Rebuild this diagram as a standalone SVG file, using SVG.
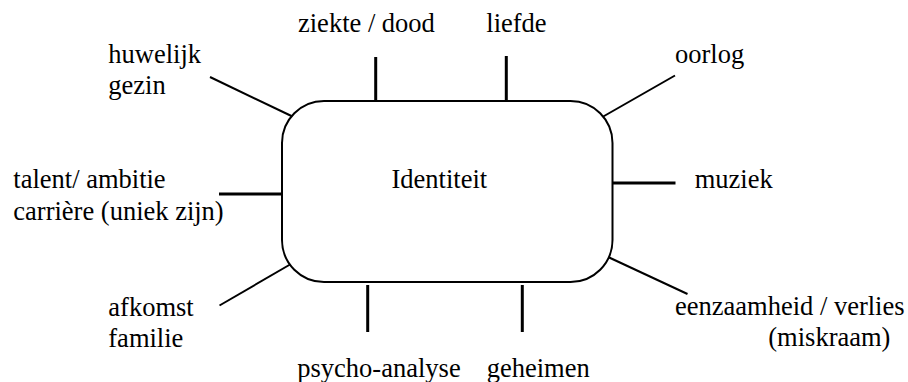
<svg xmlns="http://www.w3.org/2000/svg" width="908" height="382" viewBox="0 0 908 382">
<rect width="908" height="382" fill="#fff"/>
<g id="connectors" stroke="#000" fill="none">
<g stroke-width="2">
<line x1="210" y1="77" x2="292.5" y2="116.5"/>
<line x1="675" y1="75.5" x2="601.5" y2="117.5"/>
<line x1="219.5" y1="305.5" x2="293.5" y2="262.5"/>
<line x1="607" y1="256.5" x2="687.5" y2="294"/>
</g>
<g stroke-width="3">
<line x1="375.7" y1="57" x2="375.7" y2="102"/>
<line x1="506.3" y1="56" x2="506.3" y2="102"/>
<line x1="612" y1="183" x2="675.5" y2="183"/>
<line x1="219" y1="194" x2="282" y2="194"/>
<line x1="367.7" y1="285" x2="367.7" y2="332"/>
<line x1="522.3" y1="285" x2="522.3" y2="332"/>
</g>
</g>
<g id="identiteit">
<rect x="282" y="101" width="330.5" height="181" rx="42" ry="42" fill="#fff" stroke="#000" stroke-width="2"/>
<text x="391.5" y="188" font-family="Times New Roman" font-size="26.5">Identiteit</text>
</g>
<g id="huwelijk"><text x="108.3" y="63" font-family="Times New Roman" font-size="26.5">huwelijk</text><text x="108.3" y="94" font-family="Times New Roman" font-size="26.5">gezin</text></g>
<g id="ziekte"><text x="298" y="31.5" font-family="Times New Roman" font-size="26.5">ziekte / dood</text></g>
<g id="liefde"><text x="486.3" y="31.5" font-family="Times New Roman" font-size="26.5">liefde</text></g>
<g id="oorlog"><text x="675" y="63" font-family="Times New Roman" font-size="26.5">oorlog</text></g>
<g id="muziek"><text x="694.7" y="188" font-family="Times New Roman" font-size="26.5">muziek</text></g>
<g id="talent"><text x="13.3" y="188" font-family="Times New Roman" font-size="26.5">talent/ ambitie</text><text x="13.3" y="219.5" font-family="Times New Roman" font-size="26.5">carrière (uniek zijn)</text></g>
<g id="afkomst"><text x="108.3" y="316" font-family="Times New Roman" font-size="26.5">afkomst</text><text x="108.3" y="346.5" font-family="Times New Roman" font-size="26.5">familie</text></g>
<g id="psycho"><text x="297.3" y="376.5" font-family="Times New Roman" font-size="26.5">psycho-analyse</text></g>
<g id="geheimen"><text x="486.7" y="376.5" font-family="Times New Roman" font-size="26.5">geheimen</text></g>
<g id="eenzaamheid"><text x="675" y="315" font-family="Times New Roman" font-size="26.5">eenzaamheid / verlies</text><text x="768.3" y="346" font-family="Times New Roman" font-size="26.5">(miskraam)</text></g>
</svg>
